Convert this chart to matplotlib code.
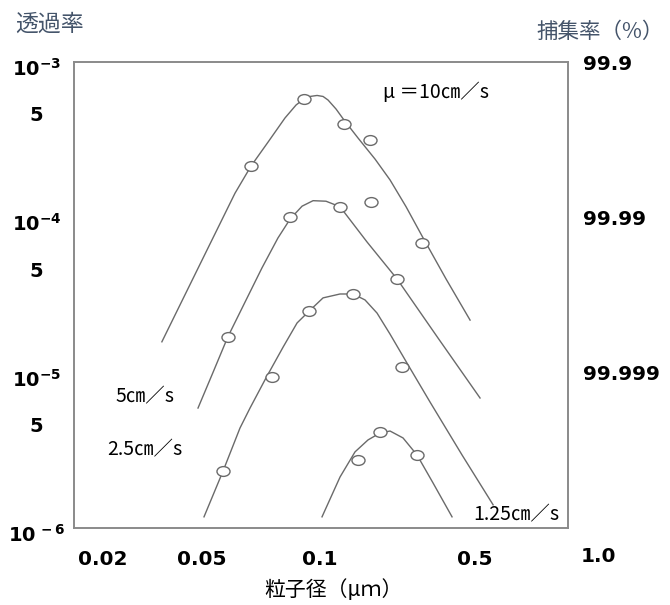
import numpy as np
import matplotlib
matplotlib.use("Agg")
import matplotlib.pyplot as plt
import matplotlib.transforms as mtransforms
from matplotlib.path import Path
from matplotlib.ticker import NullLocator

plt.rcParams['font.family'] = ['DejaVu Sans']
plt.rcParams['mathtext.fontset'] = 'dejavusans'
plt.rcParams['mathtext.default'] = 'bf'

JP = ['Noto Sans CJK JP', 'DejaVu Sans']

# 10cm/s  (fitted curve + measured points)
curve_10_x = [0.0345, 0.0408, 0.0515, 0.0607, 0.0667, 0.0737, 0.0814, 0.0869, 0.0910, 0.0943,
              0.0983, 0.1032, 0.1087, 0.1181, 0.1283, 0.1484, 0.1771, 0.2069, 0.2443,
              0.2884, 0.3700, 0.4747]
curve_10_y = [1.58e-5, 2.73e-5, 6.16e-5, 1.43e-4, 2.14e-4, 3.05e-4, 4.36e-4, 5.29e-4, 5.78e-4, 6.00e-4,
              6.09e-4, 6.00e-4, 5.69e-4, 4.98e-4, 4.23e-4, 3.24e-4, 2.37e-4, 1.74e-4, 1.17e-4,
              7.58e-5, 4.01e-5, 2.18e-5]
pts_10_x = [0.0667, 0.0910, 0.1283, 0.1681, 0.2884]
pts_10_y = [2.14e-4, 5.78e-4, 3.99e-4, 3.15e-4, 6.83e-5]

# 5cm/s
curve_5_x = [0.0482, 0.0534, 0.0582, 0.0644, 0.0711, 0.0781, 0.0839, 0.0900, 0.0960, 0.1064,
             0.1231, 0.1629, 0.2225, 0.3405, 0.5142]
curve_5_y = [5.92e-6, 1.01e-5, 1.70e-5, 2.85e-5, 4.72e-5, 7.36e-5, 9.75e-5, 1.18e-4, 1.28e-4, 1.27e-4,
             1.17e-4, 6.94e-5, 4.01e-5, 1.67e-5, 6.87e-6]
pts_5_x = [0.0582, 0.0839, 0.1231, 0.1699, 0.2225]
pts_5_y = [1.70e-5, 1.00e-4, 1.17e-4, 1.25e-4, 4.01e-5]

# 2.5cm/s
curve_25_x = [0.0506, 0.0566, 0.0625, 0.0663, 0.0728, 0.0805, 0.0874, 0.0938, 0.1032, 0.1231,
              0.1409, 0.1595, 0.1807, 0.2069, 0.2469, 0.3133, 0.4369, 0.5535]
curve_25_y = [1.18e-6, 2.33e-6, 4.40e-6, 5.92e-6, 9.24e-6, 1.46e-5, 2.09e-5, 2.49e-5, 3.03e-5, 3.21e-5,
              3.21e-5, 2.94e-5, 2.42e-5, 1.77e-5, 1.15e-5, 6.47e-6, 2.95e-6, 1.41e-6]
pts_25_x = [0.0566, 0.0754, 0.0938, 0.1409, 0.2343]
pts_25_y = [2.33e-6, 9.38e-6, 2.49e-5, 3.21e-5, 1.09e-5]

# 1.25cm/s
curve_125_x = [0.1021, 0.1231, 0.1438, 0.1646, 0.1865, 0.2069, 0.2367, 0.2738, 0.3232, 0.3937]
curve_125_y = [1.18e-6, 2.13e-6, 3.09e-6, 3.69e-6, 4.09e-6, 4.21e-6, 3.80e-6, 2.95e-6, 1.95e-6, 1.18e-6]
pts_125_x = [0.1484, 0.1865, 0.2738]
pts_125_y = [2.74e-6, 4.15e-6, 2.95e-6]

x_ticks = [0.02, 0.05, 0.1, 0.5]
x_labels = ['0.02', '0.05', '0.1', '0.5']
y_ticks = [1e-3, 5e-4, 1e-4, 5e-5, 1e-5, 5e-6, 1e-6]
y_labels = [r'$10^{-3}$', '5', r'$10^{-4}$', '5', r'$10^{-5}$', '5', r'$10^{\,-6}$']
eff_ticks = [1e-3, 1e-4, 1e-5]
eff_labels = ['99.9', '99.99', '99.999']

# the original x axis is not evenly logarithmic: piecewise log scale
LOG_ANCHORS = np.log10([0.001, 0.02, 0.05, 0.1, 0.5, 1.0, 10.0])
POS_ANCHORS = np.array([-220.6, 103, 202, 320, 475, 598, 1006.6])


def fwd(x):
    x = np.maximum(np.asarray(x, dtype=float), 1e-12)
    return np.interp(np.log10(x), LOG_ANCHORS, POS_ANCHORS)


def inv(p):
    return 10 ** np.interp(np.asarray(p, dtype=float), POS_ANCHORS, LOG_ANCHORS)


fig = plt.figure(figsize=(6.7, 6.05), dpi=100)
ax = fig.add_axes([74 / 670, 77 / 605, 494 / 670, 466 / 605])

ax.set_xscale('function', functions=(fwd, inv))
ax.set_yscale('log')
ax.set_xlim(0.0153, 0.844)
ax.set_ylim(1e-6, 1e-3)

line_c = '#6a6a6a'
circ = Path.unit_circle()
ellipse = Path(circ.vertices * [1.0, 0.75], circ.codes)

for cx, cy, px, py in [(curve_10_x, curve_10_y, pts_10_x, pts_10_y),
                       (curve_5_x, curve_5_y, pts_5_x, pts_5_y),
                       (curve_25_x, curve_25_y, pts_25_x, pts_25_y),
                       (curve_125_x, curve_125_y, pts_125_x, pts_125_y)]:
    ax.plot(cx, cy, color=line_c, lw=1.0, zorder=2, solid_joinstyle='round')
    ax.plot(px, py, ls='none', marker=ellipse, ms=9.4, mfc='white',
            mec=line_c, mew=1.0, zorder=3)

for s in ax.spines.values():
    s.set_color('#8a8a8a')
    s.set_linewidth(1.4)

ax.xaxis.set_minor_locator(NullLocator())
ax.yaxis.set_minor_locator(NullLocator())
ax.set_xticks(x_ticks, x_labels, fontsize=14.5, fontweight='bold')
ax.set_yticks(y_ticks, y_labels, fontsize=14, fontweight='bold', ha='center')
ax.tick_params(axis='x', length=0, pad=16)
ax.tick_params(axis='y', length=0, pad=27)
off = mtransforms.ScaledTranslation(0, -0.05, fig.dpi_scale_trans)
for lbl in ax.get_yticklabels():
    lbl.set_transform(lbl.get_transform() + off)

# 1.0 sits past the frame edge
ax.text(1.0, -0.062, '1.0', transform=ax.get_xaxis_transform(), ha='center',
        va='center', fontsize=14.5, fontweight='bold', clip_on=False)

ax2 = ax.twinx()
ax2.set_yscale('log')
ax2.set_ylim(1e-6, 1e-3)
ax2.yaxis.set_minor_locator(NullLocator())
ax2.set_yticks(eff_ticks, eff_labels, fontsize=14.5, fontweight='bold')
ax2.tick_params(axis='y', length=0, pad=11)
for s in ax2.spines.values():
    s.set_visible(False)

# curve labels
ax.text(0.6255, 0.9356, 'μ ＝10㎝／s', transform=ax.transAxes, family=JP,
        fontsize=14, va='center', ha='left')
ax.text(0.083, 0.2811, '5㎝／s', transform=ax.transAxes, family=JP,
        fontsize=14, va='center', ha='left')
ax.text(0.0668, 0.1674, '2.5㎝／s', transform=ax.transAxes, family=JP,
        fontsize=14, va='center', ha='left')
ax.text(0.8077, 0.0279, '1.25㎝／s', transform=ax.transAxes, family=JP,
        fontsize=14, va='center', ha='left')

title_c = '#44546a'
fig.text(15 / 670, 1 - 24 / 605, '透過率', family=JP, fontsize=16.5,
         color=title_c, ha='left', va='center')
fig.text(536 / 670, 1 - 32 / 605, '捕集率（%）', family=JP, fontsize=15.5,
         color=title_c, ha='left', va='center')
fig.text(333 / 670, 1 - 590 / 605, '粒子径（μｍ）', family=JP, fontsize=15,
         ha='center', va='center')

fig.savefig('out.png', dpi=100)
